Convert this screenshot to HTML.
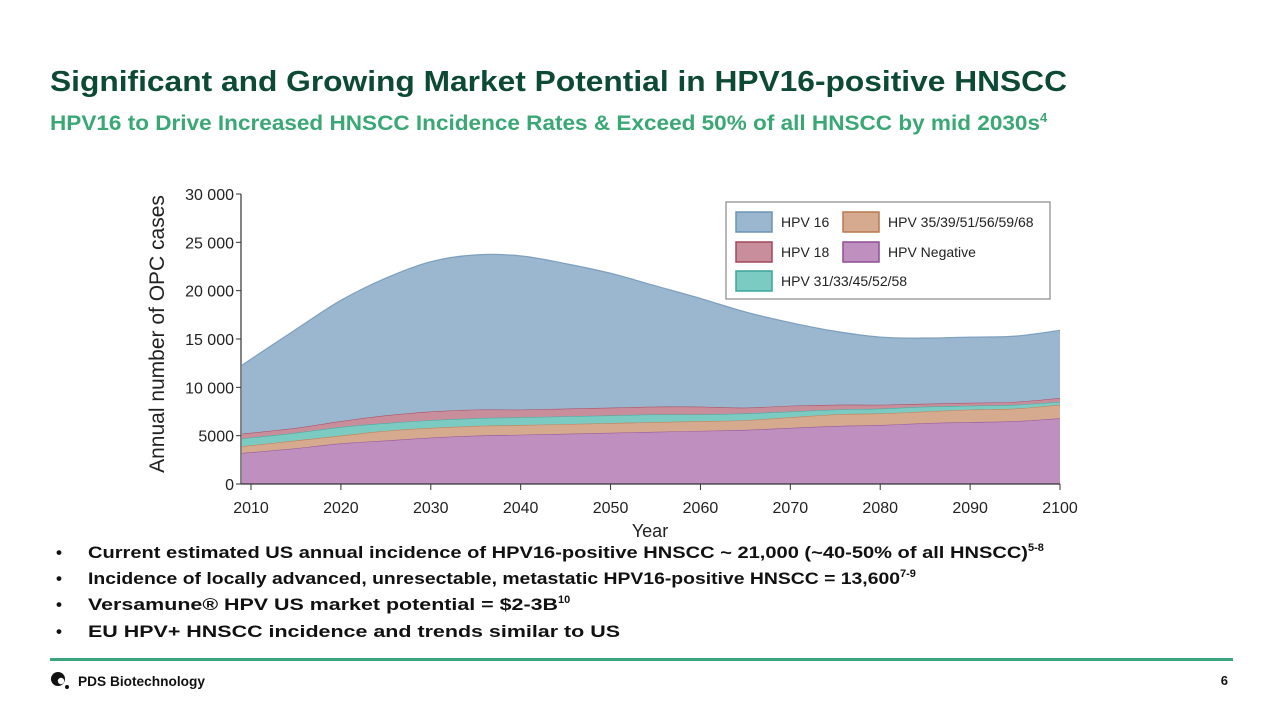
<!DOCTYPE html>
<html><head><meta charset="utf-8"><style>
html,body{margin:0;padding:0;background:#fff;}
svg{display:block;font-family:"Liberation Sans",Arial,sans-serif;}
</style></head><body>
<svg id="slide" width="1280" height="720" viewBox="0 0 1280 720">
<text x="50" y="91" font-size="29" font-weight="bold" fill="#0d4a36" textLength="1017" lengthAdjust="spacingAndGlyphs">Significant and Growing Market Potential in HPV16-positive HNSCC</text>
<text x="50" y="130" font-size="21" font-weight="bold" fill="#3aa874"><tspan textLength="990" lengthAdjust="spacingAndGlyphs">HPV16 to Drive Increased HNSCC Incidence Rates &amp; Exceed 50% of all HNSCC by mid 2030s</tspan><tspan font-size="13" dy="-8">4</tspan></text>

<g id="chart"></g>

<g font-size="17" font-weight="bold" fill="#111">
<text x="56" y="558">•</text><text x="88" y="558"><tspan textLength="940" lengthAdjust="spacingAndGlyphs">Current estimated US annual incidence of HPV16-positive HNSCC ~ 21,000 (~40-50% of all HNSCC)</tspan><tspan font-size="11" dy="-7">5-8</tspan></text>
<text x="56" y="584">•</text><text x="88" y="584"><tspan textLength="812" lengthAdjust="spacingAndGlyphs">Incidence of locally advanced, unresectable, metastatic HPV16-positive HNSCC = 13,600</tspan><tspan font-size="11" dy="-7">7-9</tspan></text>
<text x="56" y="610">•</text><text x="88" y="610"><tspan textLength="470" lengthAdjust="spacingAndGlyphs">Versamune® HPV US market potential = $2-3B</tspan><tspan font-size="11" dy="-7">10</tspan></text>
<text x="56" y="637">•</text><text x="88" y="637" textLength="532" lengthAdjust="spacingAndGlyphs">EU HPV+ HNSCC incidence and trends similar to US</text>
</g>

<rect x="50" y="658" width="1183" height="3" fill="#3aa57c"/>
<g>
<circle cx="58" cy="679" r="7" fill="#111"/><circle cx="61" cy="681" r="3.2" fill="#fff"/><circle cx="67" cy="687" r="2" fill="#111"/>
<text x="78" y="686" font-size="14" font-weight="bold" fill="#111" textLength="127" lengthAdjust="spacingAndGlyphs">PDS Biotechnology</text>
</g>
<text x="1228" y="685" font-size="13" font-weight="bold" fill="#111" text-anchor="end">6</text>
</svg>
<script>
const years = [2009,2015,2020,2025,2030,2035,2040,2045,2050,2055,2060,2065,2070,2075,2080,2085,2090,2095,2100];
const hpvNegative = [3200,3700,4200,4500,4800,5000,5100,5200,5300,5400,5500,5600,5800,6000,6100,6300,6400,6500,6800];
const hpv35 = [700,800,800,1000,1000,1000,1000,1000,1000,1000,1000,1000,1100,1200,1200,1200,1300,1300,1400];
const hpv31 = [800,800,900,800,800,800,800,800,800,800,700,700,600,500,500,500,400,400,300];
const hpv18 = [500,500,600,800,900,900,800,800,800,800,800,600,600,500,400,300,300,300,400];
const hpv16 = [7100,10200,12500,14200,15500,16000,15900,15000,13900,12500,11200,9900,8600,7600,7000,6800,6800,6800,7000];
const yTicks = [0,5000,10000,15000,20000,25000,30000];
const yTickLabels = ["0","5000","10 000","15 000","20 000","25 000","30 000"];
const xTicks = [2010,2020,2030,2040,2050,2060,2070,2080,2090,2100];

const NS="http://www.w3.org/2000/svg";
const g=document.getElementById('chart');
const X0=241,X1=1060;
const xs=y=>251+(y-2010)*(1060-251)/90;
const ys=v=>484-v*(484-194)/30000;
function el(t,a,p){const e=document.createElementNS(NS,t);for(const k in a)e.setAttribute(k,a[k]);(p||g).appendChild(e);return e;}

const series=[
 {name:'hpv-negative',vals:hpvNegative,fill:'#bf8fbf',stroke:'#8e4f93'},
 {name:'hpv-35-39-51-56-59-68',vals:hpv35,fill:'#d6aa8e',stroke:'#b9784f'},
 {name:'hpv-31-33-45-52-58',vals:hpv31,fill:'#7ccbc2',stroke:'#3aa49a'},
 {name:'hpv-18',vals:hpv18,fill:'#c98e9c',stroke:'#a3455a'},
 {name:'hpv-16',vals:hpv16,fill:'#9bb7d0',stroke:'#6d93b5'}
];
function smooth(pts){let d='';for(let i=0;i<pts.length-1;i++){const p0=pts[Math.max(0,i-1)],p1=pts[i],p2=pts[i+1],p3=pts[Math.min(pts.length-1,i+2)];
 const c1=[p1[0]+(p2[0]-p0[0])/6,p1[1]+(p2[1]-p0[1])/6],c2=[p2[0]-(p3[0]-p1[0])/6,p2[1]-(p3[1]-p1[1])/6];
 d+=` C${c1[0]},${c1[1]} ${c2[0]},${c2[1]} ${p2[0]},${p2[1]}`;}return d;}
let base=years.map(()=>0);
series.forEach(s=>{
 const top=base.map((b,i)=>b+s.vals[i]);
 const tp=years.map((y,i)=>[xs(y),ys(top[i])]);
 const bp=years.map((y,i)=>[xs(y),ys(base[i])]).reverse();
 const d='M'+tp[0][0]+','+tp[0][1]+smooth(tp)+' L'+bp[0][0]+','+bp[0][1]+smooth(bp)+' Z';
 const p=el('path',{d:d,fill:s.fill});
 
 
 const l=el('path',{d:'M'+tp[0][0]+','+tp[0][1]+smooth(tp),fill:'none',stroke:s.stroke,'stroke-width':1.2,'stroke-opacity':0.8});
 
 
 base=top;
});
const ya=el('line',{x1:X0,y1:194,x2:X0,y2:484,stroke:'#333','stroke-width':1.2});


const xa=el('line',{x1:X0,y1:484,x2:X1,y2:484,stroke:'#333','stroke-width':1.2});


yTicks.forEach((v,i)=>{
 el('line',{x1:X0-5,y1:ys(v),x2:X0,y2:ys(v),stroke:'#333'});
 const t=el('text',{x:X0-7,y:ys(v)+6,'font-size':16,'text-anchor':'end',fill:'#222'});t.textContent=yTickLabels[i];
 
 
});
xTicks.forEach(v=>{
 el('line',{x1:xs(v),y1:484,x2:xs(v),y2:490,stroke:'#333'});
 const t=el('text',{x:xs(v),y:513,'font-size':16,'text-anchor':'middle',fill:'#222'});t.textContent=v;
 
 
});
const xt=el('text',{x:650,y:537,'font-size':18,'text-anchor':'middle',fill:'#222'});xt.textContent='Year';


const yt=el('text',{x:0,y:0,'font-size':21,'text-anchor':'middle',fill:'#222',transform:'translate(164,334) rotate(-90)'});yt.textContent='Annual number of OPC cases';


const lg=el('g',{});


el('rect',{x:726,y:202,width:324,height:97,fill:'#fff',stroke:'#888','stroke-width':1.2},lg);
const leg=[[736,212,series[4],'HPV 16'],[736,242,series[3],'HPV 18'],[736,271,series[2],'HPV 31/33/45/52/58'],[843,212,series[1],'HPV 35/39/51/56/59/68'],[843,242,series[0],'HPV Negative']];
leg.forEach(L=>{
 const e=el('g',{},lg);
 
 
 el('rect',{x:L[0],y:L[1],width:36,height:20,fill:L[2].fill,stroke:L[2].stroke,'stroke-width':1.5},e);
 const t=el('text',{x:L[0]+45,y:L[1]+15,'font-size':14,fill:'#222'},e);t.textContent=L[3];
});
</script>
</body></html>
